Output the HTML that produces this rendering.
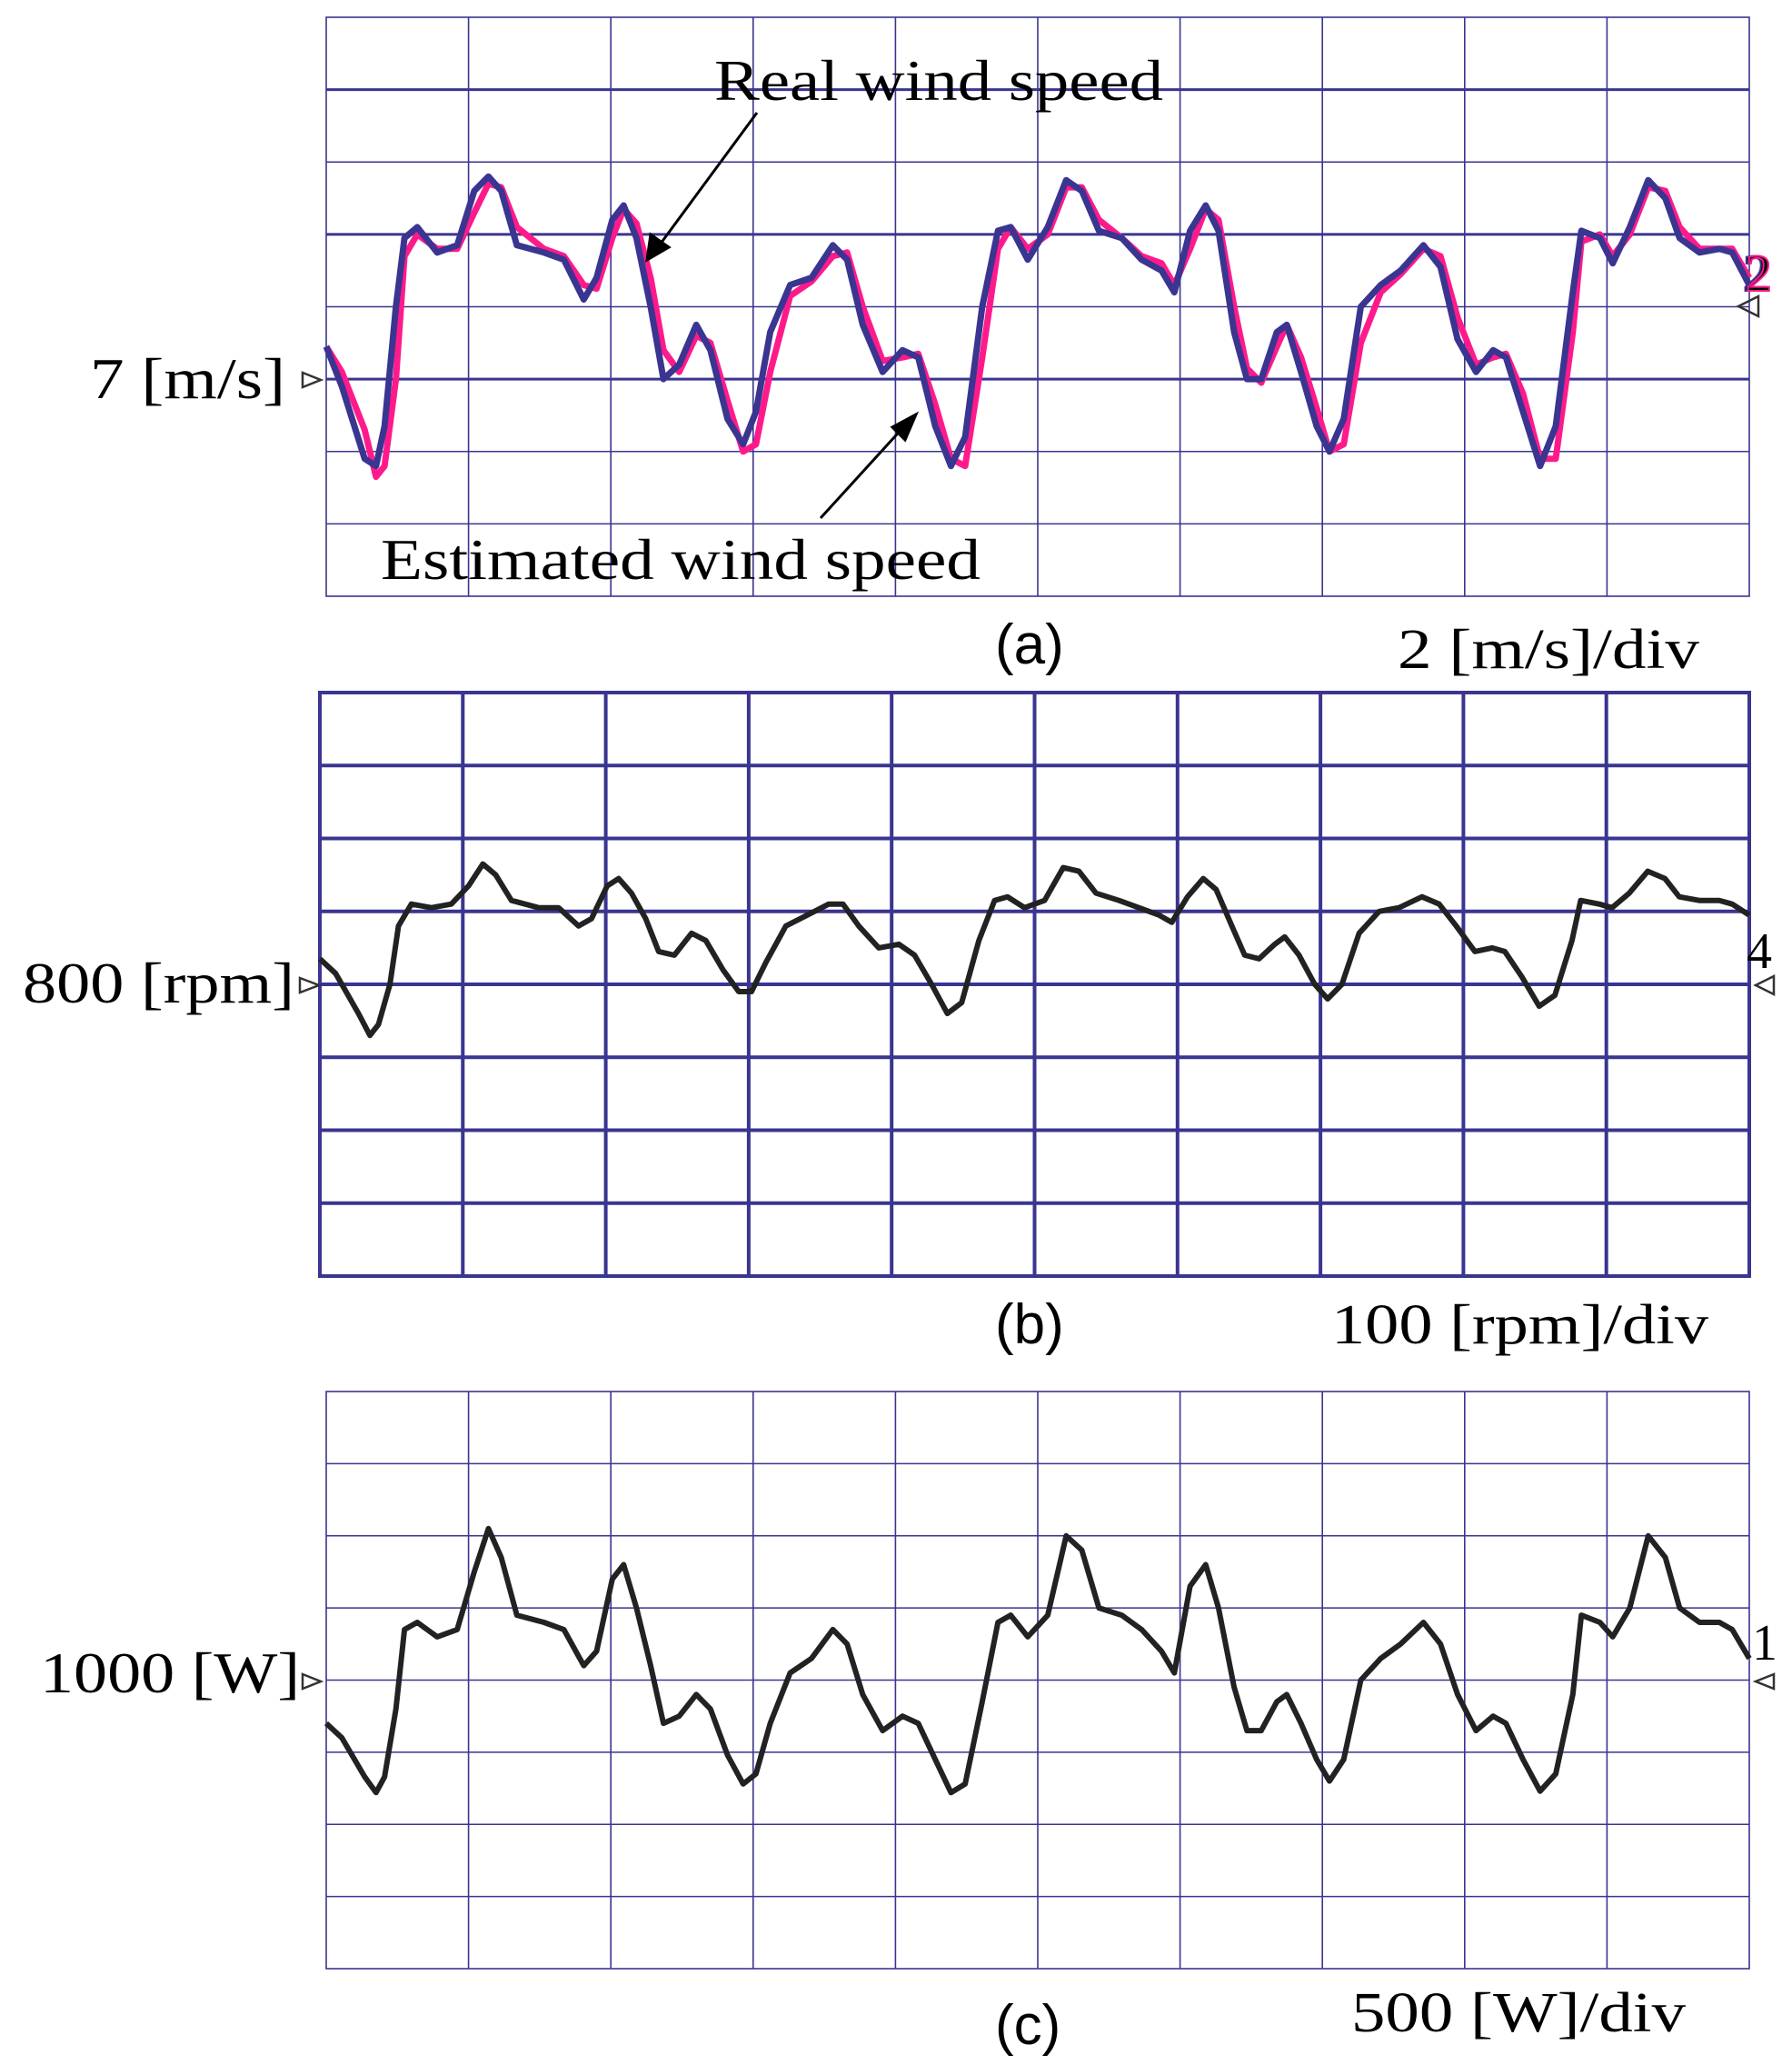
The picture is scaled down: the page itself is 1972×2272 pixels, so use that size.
<!DOCTYPE html>
<html><head><meta charset="utf-8"><style>
html,body{margin:0;padding:0;background:#fff;}
svg{display:block;}
.serif{font-family:"Liberation Serif",serif;fill:#000;}
.sans{font-family:"Liberation Sans",sans-serif;fill:#000;}
</style></head><body>
<svg id="fig" width="1972" height="2272" viewBox="0 0 1972 2272" xmlns="http://www.w3.org/2000/svg">
<g id="gA"></g>
<g id="gB"></g>
<g id="gC"></g>
<g id="txt">
<text class="serif" x="786" y="110" font-size="64" textLength="494" lengthAdjust="spacingAndGlyphs">Real wind speed</text>
<text class="serif" x="419" y="637" font-size="64" textLength="660" lengthAdjust="spacingAndGlyphs">Estimated wind speed</text>
<text class="sans" x="1095" y="730" font-size="62">(a)</text>
<text class="serif" x="1538" y="735" font-size="62" textLength="332" lengthAdjust="spacingAndGlyphs">2 [m/s]/div</text>
<text class="serif" x="99" y="438" font-size="64" textLength="215" lengthAdjust="spacingAndGlyphs">7 [m/s]</text>
<text class="sans" x="1095" y="1478" font-size="62">(b)</text>
<text class="serif" x="1465" y="1478" font-size="62" textLength="415" lengthAdjust="spacingAndGlyphs">100 [rpm]/div</text>
<text class="serif" x="25" y="1103" font-size="64" textLength="299" lengthAdjust="spacingAndGlyphs">800 [rpm]</text>
<text class="sans" x="1095" y="2249" font-size="62">(c)</text>
<text class="serif" x="1487" y="2235" font-size="62" textLength="368" lengthAdjust="spacingAndGlyphs">500 [W]/div</text>
<text class="serif" x="44" y="1862" font-size="64" textLength="286" lengthAdjust="spacingAndGlyphs">1000 [W]</text>
<text class="serif" x="1918" y="320" font-size="58" fill="none" stroke="#3a3590" stroke-width="2">2</text>
<text class="serif" x="1921" y="320" font-size="58" fill="none" stroke="#ff1a8c" stroke-width="2">2</text>
<text class="serif" x="1922" y="1065" font-size="56">4</text>
<text class="serif" x="1928" y="1826" font-size="56" fill="#777">1</text>
<g stroke="#000" stroke-width="3">
<line x1="833" y1="124" x2="724" y2="272"/><polygon points="712,286 716,258 736,272" fill="#000"/>
</g>
<g stroke="#000" stroke-width="3">
<line x1="903" y1="570" x2="996" y2="468"/><polygon points="1008,456 996,484 982,470" fill="#000"/>
</g>
<g fill="none" stroke="#333" stroke-width="2.5">
<polygon points="333,410 353,418 333,426"/>
<polygon points="1935,326 1913,337 1935,348"/>
<polygon points="330,1076 351,1084 330,1092"/>
<polygon points="1952,1074 1932,1084 1952,1094"/>
<polygon points="333,1842 353,1850 333,1858"/>
<polygon points="1952,1842 1932,1850 1952,1858"/>
</g>
</g>
</svg>
<script>
const timeDiv = [0,0.11,0.27,0.35,0.41,0.49,0.55,0.64,0.78,0.92,1.04,1.14,1.23,1.34,1.53,1.67,1.81,1.90,2.01,2.09,2.18,2.28,2.37,2.48,2.60,2.70,2.82,2.93,3.02,3.12,3.26,3.41,3.56,3.66,3.77,3.91,4.05,4.16,4.28,4.39,4.49,4.61,4.72,4.81,4.93,5.07,5.20,5.31,5.43,5.59,5.73,5.87,5.96,6.07,6.18,6.27,6.38,6.47,6.57,6.68,6.75,6.85,6.96,7.05,7.15,7.27,7.41,7.55,7.71,7.83,7.95,8.08,8.20,8.29,8.41,8.53,8.64,8.76,8.82,8.95,9.04,9.16,9.29,9.41,9.51,9.65,9.79,9.88,10.0];
const realWind = [7.9,6.8,4.8,4.6,5.7,9.0,10.9,11.2,10.5,10.7,12.2,12.6,12.2,10.7,10.5,10.3,9.2,9.8,11.4,11.8,10.9,9.0,7.0,7.4,8.5,7.8,5.9,5.2,6.1,8.3,9.6,9.8,10.7,10.3,8.5,7.2,7.8,7.6,5.7,4.6,5.4,9.0,11.1,11.2,10.3,11.2,12.5,12.2,11.1,10.9,10.3,10.0,9.4,11.1,11.8,11.1,8.3,7.0,7.0,8.3,8.5,7.2,5.7,5.0,5.9,9.0,9.6,10.0,10.7,10.1,8.1,7.2,7.8,7.6,6.1,4.6,5.7,9.4,11.1,10.9,10.2,11.2,12.5,12.0,10.9,10.5,10.6,10.5,9.6];
const estWind = [7.9,7.2,5.6,4.3,4.6,7.0,10.4,11.0,10.6,10.6,11.6,12.4,12.3,11.2,10.6,10.4,9.6,9.5,10.9,11.7,11.3,9.8,7.8,7.2,8.2,8.0,6.4,5.0,5.2,7.2,9.3,9.7,10.4,10.5,9.0,7.5,7.6,7.7,6.3,4.8,4.6,7.6,10.6,11.2,10.6,11.0,12.3,12.3,11.4,10.9,10.4,10.2,9.6,10.6,11.7,11.4,9.0,7.3,6.9,7.9,8.5,7.6,6.2,5.0,5.2,8.0,9.4,9.9,10.6,10.4,8.7,7.4,7.6,7.7,6.6,4.8,4.8,8.3,10.8,11.0,10.4,11.0,12.3,12.2,11.2,10.6,10.6,10.6,9.8];
const rotorRpm = [835,815,760,730,745,800,880,910,905,910,935,965,950,915,905,905,880,890,935,945,925,890,845,840,870,860,820,790,790,830,880,895,910,910,880,850,855,840,800,760,775,860,915,920,905,915,960,955,925,915,905,895,885,920,945,930,880,840,835,855,865,840,800,780,800,870,900,905,920,910,880,845,850,845,810,770,785,860,915,910,905,925,955,945,920,915,915,910,895];
const powerW = [700,600,330,220,330,800,1350,1400,1300,1350,1750,2050,1850,1450,1400,1350,1100,1200,1700,1800,1500,1100,700,750,900,800,480,280,350,700,1050,1150,1350,1250,900,650,750,700,450,220,280,850,1400,1450,1300,1450,2000,1900,1500,1450,1350,1200,1050,1650,1800,1500,950,650,650,850,900,700,450,300,450,1000,1150,1250,1400,1250,900,650,750,700,450,230,350,900,1450,1400,1300,1500,2000,1850,1500,1400,1400,1350,1150];

const NS='http://www.w3.org/2000/svg';
function mk(tag,attrs,parent){const e=document.createElementNS(NS,tag);for(const k in attrs)e.setAttribute(k,attrs[k]);parent.appendChild(e);return e;}

function panel(g,x0,y0,x1,y1,thickRows,thinW,thickW,allThick){
  const rect=mk('rect',{x:x0,y:y0,width:x1-x0,height:y1-y0,fill:'#fff',stroke:'#3a3590','stroke-width':allThick?thickW:thinW},g);
  
  
  for(let i=1;i<10;i++){
    const x=x0+(x1-x0)*i/10;
    const l=mk('line',{x1:x,y1:y0,x2:x,y2:y1,stroke:'#3a3590','stroke-width':allThick?thickW:thinW},g);
    
    
  }
  for(let j=1;j<8;j++){
    const y=y0+(y1-y0)*j/8;
    const w=(allThick||thickRows.includes(j))?thickW:thinW;
    const l=mk('line',{x1:x0,y1:y,x2:x1,y2:y,stroke:'#3a3590','stroke-width':w},g);
    
    
  }
}
function trace(g,x0,y0,x1,y1,times,vals,offset,perDiv,color,w,name){
  const xs=t=>x0+(x1-x0)*t/10;
  const ys=v=>y1-(y1-y0)*(4+(v-offset)/perDiv)/8;
  let d='';
  for(let i=0;i<times.length;i++){d+=(i?'L':'M')+xs(times[i]).toFixed(1)+','+ys(vals[i]).toFixed(1);}
  const p=mk('path',{d:d,fill:'none',stroke:color,'stroke-width':w,'stroke-linejoin':'round'},g);
  
  
}
const gA=document.getElementById('gA'),gB=document.getElementById('gB'),gC=document.getElementById('gC');
panel(gA,359,19,1925,656,[1,3,5],1.6,3,false);
trace(gA,359,19,1925,656,timeDiv,estWind,9,2,'#ff1a8c',7,'estimated-wind-speed-trace');
trace(gA,359,19,1925,656,timeDiv,realWind,9,2,'#3a3590',7,'real-wind-speed-trace');
panel(gB,352,762,1925,1404,[],4,4,true);
trace(gB,352,762,1925,1404,timeDiv,rotorRpm,800,100,'#222',6,'rotor-speed-trace');
panel(gC,359,1531,1925,2166,[],1.6,1.6,false);
trace(gC,359,1531,1925,2166,timeDiv,powerW,1000,500,'#222',6,'power-trace');
</script>
</body></html>
